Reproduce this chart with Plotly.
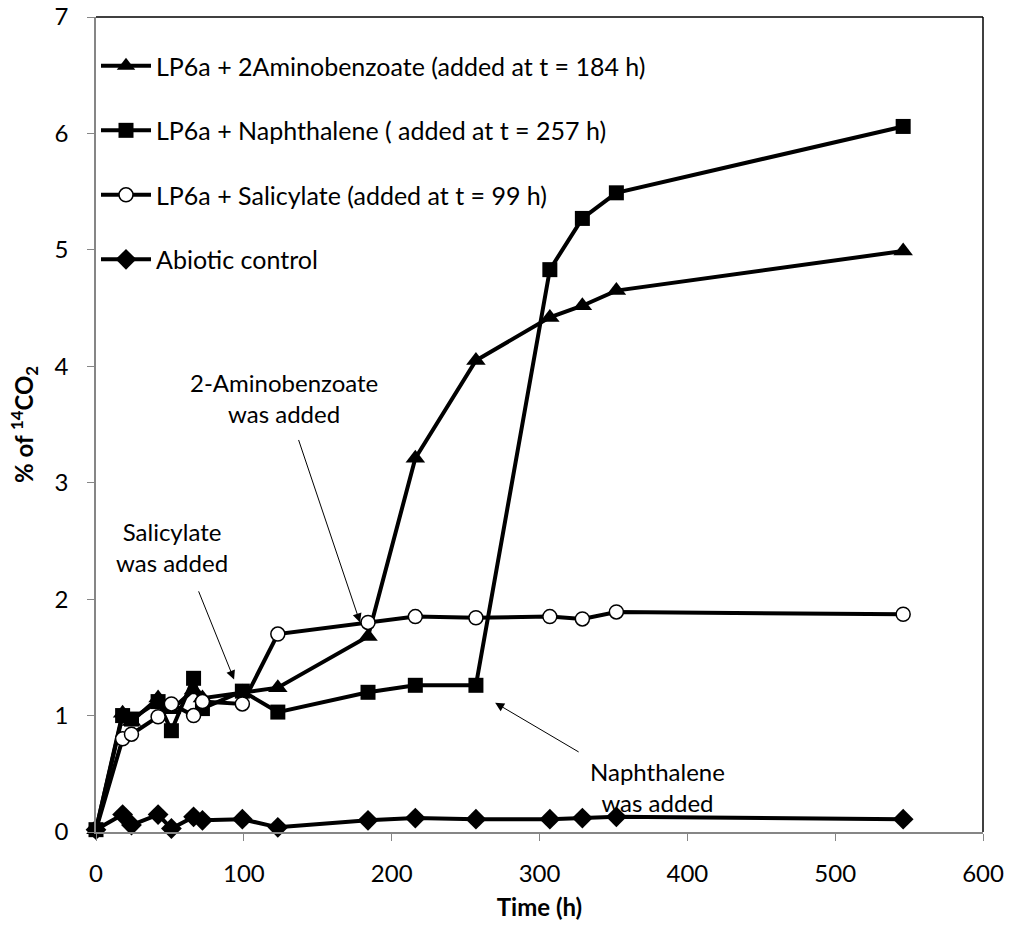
import plotly.graph_objects as go

time_h = [0, 18, 24, 42, 51, 66, 72, 99, 123, 184, 216, 257, 307, 329, 352, 546]
aminobenzoate = [0.02, 1.02, 0.95, 1.15, 1.05, 1.22, 1.15, 1.20, 1.24, 1.68, 3.21, 4.05, 4.42, 4.52, 4.65, 4.99]
naphthalene = [0.02, 1.00, 0.97, 1.12, 0.87, 1.32, 1.06, 1.21, 1.03, 1.20, 1.26, 1.26, 4.83, 5.27, 5.49, 6.06]
salicylate = [0.02, 0.80, 0.84, 0.99, 1.10, 1.00, 1.12, 1.10, 1.70, 1.80, 1.85, 1.84, 1.85, 1.83, 1.89, 1.87]
abiotic = [0.02, 0.15, 0.06, 0.15, 0.03, 0.13, 0.10, 0.11, 0.04, 0.10, 0.12, 0.11, 0.11, 0.12, 0.13, 0.11]

names = [
    "LP6a + 2Aminobenzoate (added at t = 184 h)",
    "LP6a + Naphthalene ( added at t = 257 h)",
    "LP6a + Salicylate (added at t = 99 h)",
    "Abiotic control",
]
x_ticks = [0, 100, 200, 300, 400, 500, 600]
y_ticks = [0, 1, 2, 3, 4, 5, 6, 7]

FONT = "Lato"
FS = 24
fig = go.Figure()
series = [
    (names[0], aminobenzoate, dict(symbol="triangle-up", size=17, color="black")),
    (names[1], naphthalene, dict(symbol="square", size=15, color="black")),
    (names[2], salicylate, dict(symbol="circle", size=14, color="white", line=dict(color="black", width=1.5))),
    (names[3], abiotic, dict(symbol="diamond", size=16, color="black")),
]
for i, (nm, vals, mk) in enumerate(series):
    fig.add_trace(go.Scatter(
        x=time_h, y=vals, name=nm, mode="lines+markers",
        line=dict(color="black", width=4), marker=mk,
        legendgroup=f"g{i}", cliponaxis=False,
    ))

# (label, tip x, tip y, tail x, tail y, label x, label y)
arrows = [
    ("2-Aminobenzoate<br>was added", 178.6, 1.80, 136.7, 3.38, 127, 3.73),
    ("Salicylate<br>was added", 93.4, 1.31, 69, 2.08, 51.4, 2.45),
    ("Naphthalene<br>was added", 270, 1.11, 327.5, 0.68, 379.6, 0.39),
]
for txt, ax_, ay_, sx, sy, tx, ty in arrows:
    fig.add_annotation(x=ax_, y=ay_, ax=sx, ay=sy, axref="x", ayref="y",
                       showarrow=True, arrowhead=2, arrowsize=1.8, arrowwidth=1,
                       arrowcolor="black", text="")
    fig.add_annotation(x=tx, y=ty, text=txt, showarrow=False,
                       font=dict(family=FONT, size=FS, color="black"), align="center")

# top and right frame lines
fig.add_shape(type="line", xref="paper", yref="paper", x0=0, y0=1, x1=1, y1=1,
              line=dict(color="black", width=1.5), layer="above")
fig.add_shape(type="line", xref="paper", yref="paper", x0=1, y0=0, x1=1, y1=1,
              line=dict(color="black", width=1.5), layer="above")

fig.update_layout(
    width=1010, height=945,
    margin=dict(l=96, r=27, t=17, b=113, autoexpand=False),
    paper_bgcolor="white", plot_bgcolor="white",
    font=dict(family=FONT, size=FS, color="black"),
    showlegend=True,
    legend=dict(x=0.0, y=0.968, xanchor="left", yanchor="top",
                bgcolor="rgba(0,0,0,0)", font=dict(size=25),
                tracegroupgap=29, itemwidth=50),
    xaxis=dict(range=[0, 600], tickvals=x_ticks, ticks="outside", ticklen=7,
               tickcolor="#868686", showline=True, linecolor="#868686", linewidth=1.5,
               showgrid=False, zeroline=False, ticklabelstandoff=12,
               ticklabeloverflow="allow", automargin=False,
               title=dict(text="<b>Time (h)</b>", font=dict(size=FS), standoff=14)),
    yaxis=dict(range=[0, 7], tickvals=y_ticks, ticks="outside", ticklen=7,
               tickcolor="#868686", showline=True, linecolor="#868686", linewidth=1.5,
               showgrid=False, zeroline=False, ticklabelstandoff=14,
               ticklabeloverflow="allow", automargin=False,
               title=dict(text="<b>% of <sup>14</sup>CO<sub>2</sub></b>", font=dict(size=FS), standoff=14)),
)

fig.write_html("out.html", config={"displayModeBar": False},
               post_script="document.body.style.margin='0px';document.body.style.overflow='hidden';")
